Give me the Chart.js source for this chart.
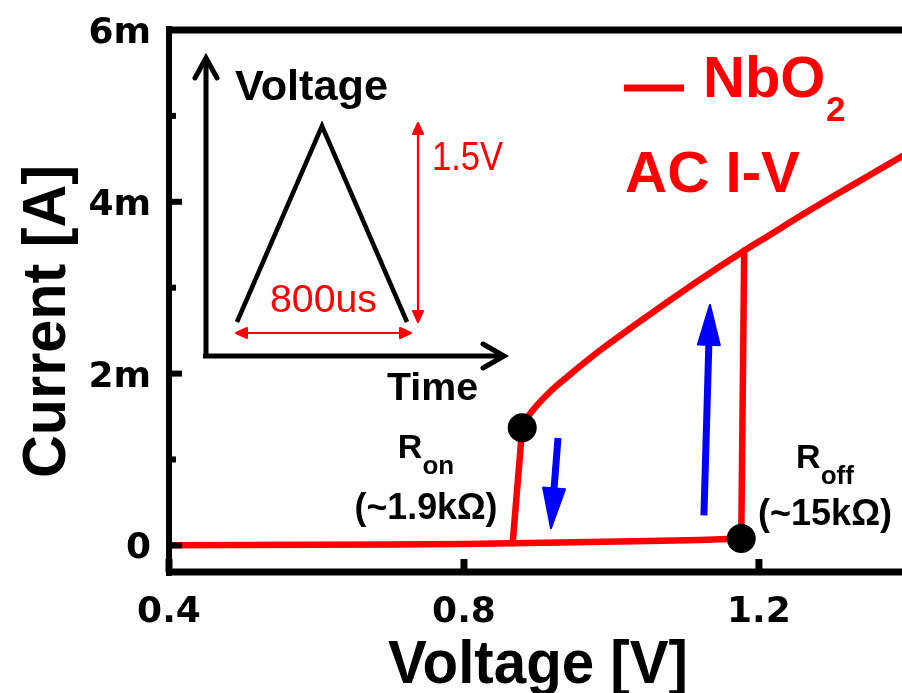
<!DOCTYPE html>
<html>
<head>
<meta charset="utf-8">
<script src="https://cdn.jsdelivr.net/npm/chart.js@4/dist/chart.umd.min.js"></script>
<style>
  html, body { margin: 0; padding: 0; background: #ffffff; }
  #c { display: block; }
</style>
</head>
<body>
<canvas id="c" width="902" height="693"></canvas>
<script>
// ---------------- data (voltage in V, current in mA) ----------------
// high-resistance (off) branch, traced on both sweeps
const offBranchV = [0.40, 0.50, 0.60, 0.70, 0.80, 0.866, 0.95, 1.05, 1.12, 1.176];
const offBranchI = [0.000, 0.003, 0.006, 0.010, 0.015, 0.025, 0.035, 0.050, 0.063, 0.080];
// threshold switching jump (up sweep)
const jumpUpV = [1.176, 1.180];
const jumpUpI = [0.080, 3.43];
// low-resistance (on) branch
const onBranchV = [0.879, 0.884, 0.895, 0.918, 0.941, 0.986, 1.031, 1.077, 1.121, 1.180, 1.212, 1.257, 1.302, 1.348, 1.394];
const onBranchI = [1.37, 1.46, 1.59, 1.80, 1.97, 2.28, 2.56, 2.84, 3.10, 3.43, 3.60, 3.84, 4.07, 4.30, 4.53];
// hold / drop back (down sweep)
const dropDownV = [0.879, 0.866];
const dropDownI = [1.37, 0.025];
// R_on and R_off points
const switchV = [0.879, 1.176];
const switchI = [1.37, 0.08];
const xTickValues = [0.4, 0.8, 1.2];
const xTickLabels = ['0.4', '0.8', '1.2'];
const yTickValues = [0, 2, 4, 6];
const yTickLabels = ['0', '2m', '4m', '6m'];
const yMinorTicks = [1, 3, 5];
// sweep-direction arrows (data space)
const arrowFromV = [0.9275, 1.1254];
const arrowFromI = [1.25, 0.35];
const arrowToV   = [0.918, 1.1336];
const arrowToI   = [0.20, 2.80];

const RED = '#ff0000';
const toXY = (xs, ys) => xs.map((x, i) => ({ x: x, y: ys[i] }));

function txt(ctx, s, x, y, font, color, align, w) {
  ctx.save();
  ctx.font = font; ctx.fillStyle = color; ctx.textBaseline = 'alphabetic'; ctx.textAlign = 'left';
  const m = ctx.measureText(s).width;
  const sx = w ? w / m : 1;
  const ww = m * sx;
  const x0 = align === 'center' ? x - ww / 2 : (align === 'right' ? x - ww : x);
  ctx.translate(x0, y); ctx.scale(sx, 1); ctx.fillText(s, 0, 0);
  ctx.restore();
}
function line(ctx, x1, y1, x2, y2, w, c, cap) {
  ctx.save(); ctx.strokeStyle = c; ctx.lineWidth = w; ctx.lineCap = cap || 'butt';
  ctx.beginPath(); ctx.moveTo(x1, y1); ctx.lineTo(x2, y2); ctx.stroke(); ctx.restore();
}
function head(ctx, tx, ty, fx, fy, len, hw, c) {
  const dx = tx - fx, dy = ty - fy, L = Math.hypot(dx, dy), ux = dx / L, uy = dy / L;
  const bx = tx - ux * len, by = ty - uy * len;
  ctx.save(); ctx.fillStyle = c; ctx.strokeStyle = c; ctx.lineJoin = 'round'; ctx.lineWidth = 2;
  ctx.beginPath(); ctx.moveTo(tx, ty); ctx.lineTo(bx - uy * hw, by + ux * hw); ctx.lineTo(bx + uy * hw, by - ux * hw);
  ctx.closePath(); ctx.fill(); ctx.stroke(); ctx.restore();
  return [bx, by];
}

const framePlugin = {
  id: 'frame',
  afterDatasetsDraw(chart) {
    const ctx = chart.ctx, xs = chart.scales.x, ys = chart.scales.y;
    for (let i = 0; i < arrowFromV.length; i++) {
      const fx = xs.getPixelForValue(arrowFromV[i]), fy = ys.getPixelForValue(arrowFromI[i]);
      const tx = xs.getPixelForValue(arrowToV[i]), ty = ys.getPixelForValue(arrowToI[i]);
      const b = head(ctx, tx, ty, fx, fy, 40, 11, '#0000ff');
      line(ctx, fx, fy, b[0], b[1], 7, '#0000ff');
    }
  },
  afterDraw(chart) {
    const ctx = chart.ctx, xs = chart.scales.x, ys = chart.scales.y, a = chart.chartArea;
    const L = a.left, T = a.top, B = a.bottom, R = chart.width;
    // spines
    line(ctx, L, T - 4, L, B + 4, 6, '#000');
    line(ctx, L - 3, T, R, T, 7, '#000');
    line(ctx, L - 3, B, R, B, 7, '#000');
    // inward ticks
    yTickValues.forEach(v => { const p = ys.getPixelForValue(v); line(ctx, L, p, L + 13, p, 6, '#000'); });
    yMinorTicks.forEach(v => { const p = ys.getPixelForValue(v); line(ctx, L, p, L + 7, p, 6, '#000'); });
    xTickValues.forEach(v => { const p = xs.getPixelForValue(v); line(ctx, p, B, p, B - 13, 7, '#000'); });
    // tick labels
    const tf = 'bold 36px "DejaVu Sans"';
    yTickValues.forEach((v, i) => { const p = ys.getPixelForValue(v); txt(ctx, yTickLabels[i], 151, p + 13, tf, '#000', 'right'); });
    xTickValues.forEach((v, i) => { const p = xs.getPixelForValue(v); txt(ctx, xTickLabels[i], p, 622, tf, '#000', 'center'); });
    // axis titles
    txt(ctx, 'Voltage [V]', 538, 683, 'bold 62px "Liberation Sans"', '#000', 'center', 300);
    ctx.save(); ctx.translate(65, 321.5); ctx.rotate(-Math.PI / 2);
    txt(ctx, 'Current [A]', 0, 0, 'bold 62px "Liberation Sans"', '#000', 'center', 313);
    ctx.restore();
    // legend
    line(ctx, 624, 88, 684, 88, 7, RED);
    txt(ctx, 'NbO', 703, 97, 'bold 58px "Liberation Sans"', RED, 'left');
    txt(ctx, '2', 826, 121, 'bold 35px "Liberation Sans"', RED, 'left');
    txt(ctx, 'AC I-V', 625, 192, 'bold 58px "Liberation Sans"', RED, 'left', 175);
    // R_on / R_off labels
    function rLabel(cx, yR, sub, yS, val, yV, wv) {
      ctx.save();
      ctx.font = 'bold 34px "Liberation Sans"'; const w1 = ctx.measureText('R').width;
      ctx.font = 'bold 26px "Liberation Sans"'; const w2 = ctx.measureText(sub).width;
      ctx.restore();
      const x0 = cx - (w1 + w2) / 2;
      txt(ctx, 'R', x0, yR, 'bold 34px "Liberation Sans"', '#000', 'left');
      txt(ctx, sub, x0 + w1, yS, 'bold 26px "Liberation Sans"', '#000', 'left');
      txt(ctx, val, cx, yV, 'bold 37px "Liberation Sans"', '#000', 'center', wv);
    }
    rLabel(426, 458, 'on', 474, '(~1.9k\u03A9)', 519, 143);
    rLabel(825, 468, 'off', 484, '(~15k\u03A9)', 525, 134);
    // inset: triangular voltage pulse schematic
    ctx.save();
    line(ctx, 206, 356, 206, 60, 5, '#000');
    line(ctx, 203, 356, 502, 356, 5, '#000');
    ctx.strokeStyle = '#000'; ctx.lineWidth = 5; ctx.lineCap = 'round'; ctx.lineJoin = 'miter';
    ctx.beginPath(); ctx.moveTo(195, 78); ctx.lineTo(206, 58); ctx.lineTo(217, 78); ctx.stroke();
    ctx.beginPath(); ctx.moveTo(483, 344); ctx.lineTo(504, 356); ctx.lineTo(483, 368); ctx.stroke();
    ctx.lineWidth = 4.5; ctx.lineCap = 'butt'; ctx.lineJoin = 'miter';
    ctx.beginPath(); ctx.moveTo(237, 322); ctx.lineTo(322, 126); ctx.lineTo(407, 322); ctx.stroke();
    ctx.restore();
    // red dimension arrows
    line(ctx, 245, 333, 402, 333, 2.2, RED);
    head(ctx, 236, 333, 300, 333, 11, 5, RED);
    head(ctx, 411, 333, 300, 333, 11, 5, RED);
    line(ctx, 418, 132, 418, 313, 2.2, RED);
    head(ctx, 418, 123, 418, 200, 11, 5, RED);
    head(ctx, 418, 322, 418, 200, 11, 5, RED);
    txt(ctx, 'Voltage', 235, 100, 'bold 42px "Liberation Sans"', '#000', 'left', 153);
    txt(ctx, 'Time', 387, 400, 'bold 39px "Liberation Sans"', '#000', 'left', 91);
    txt(ctx, '800us', 270, 312, '38px "Liberation Sans"', RED, 'left', 107);
    txt(ctx, '1.5V', 432, 170, '40px "Liberation Sans"', RED, 'left', 71);
  }
};

const redLine = { showLine: true, borderColor: RED, borderWidth: 6.5, pointRadius: 0,
                  borderJoinStyle: 'round', borderCapStyle: 'round' };

new Chart(document.getElementById('c'), {
  type: 'scatter',
  data: {
    datasets: [
      { label: 'switch points', data: toXY(switchV, switchI), showLine: false,
        pointRadius: 14.5, pointBackgroundColor: '#000', pointBorderColor: '#000', pointBorderWidth: 0, order: 0 },
      Object.assign({ label: 'off branch', data: toXY(offBranchV, offBranchI), tension: 0, order: 1 }, redLine),
      Object.assign({ label: 'jump up', data: toXY(jumpUpV, jumpUpI), tension: 0, order: 1 }, redLine),
      Object.assign({ label: 'on branch', data: toXY(onBranchV, onBranchI), cubicInterpolationMode: 'monotone', order: 1 }, redLine),
      Object.assign({ label: 'drop down', data: toXY(dropDownV, dropDownI), tension: 0, order: 1 }, redLine)
    ]
  },
  options: {
    responsive: false,
    animation: false,
    events: [],
    layout: { autoPadding: false, padding: { left: 169, top: 30, right: 0, bottom: 121 } },
    scales: {
      x: { type: 'linear', min: 0.4, max: 1.394, display: false },
      y: { type: 'linear', min: -0.31, max: 6, display: false }
    },
    plugins: { legend: { display: false }, tooltip: { enabled: false } }
  },
  plugins: [framePlugin]
});
</script>
</body>
</html>
